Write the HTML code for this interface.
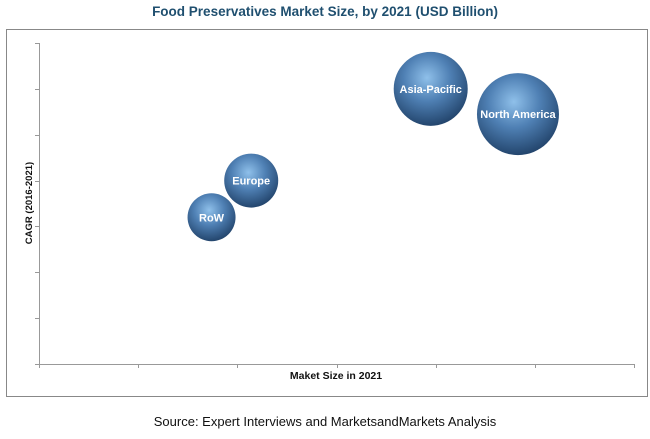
<!DOCTYPE html>
<html><head><meta charset="utf-8"><style>
body{margin:0;background:#fff;width:650px;height:434px;overflow:hidden;font-family:"Liberation Sans",sans-serif}
</style></head><body>
<svg width="650" height="434" viewBox="0 0 650 434">
<defs>
<radialGradient id="g" cx="0.45" cy="0.35" r="0.7">
<stop offset="0" stop-color="#8fc0ea"/>
<stop offset="0.45" stop-color="#4f80b4"/>
<stop offset="1" stop-color="#1d3d63"/>
</radialGradient>
</defs>
<text x="325" y="16" text-anchor="middle" font-size="13.5" font-weight="bold" fill="#1f4f6f">Food Preservatives Market Size, by  2021 (USD Billion)</text>
<rect x="6.5" y="29.5" width="641" height="367" fill="none" stroke="#888"/>
<g id="axes"></g>
<g id="bubbles"></g>
<text x="336" y="379" text-anchor="middle" font-size="10.5" font-weight="bold" fill="#111">Maket Size in 2021</text>
<text transform="translate(32,203) rotate(-90)" text-anchor="middle" font-size="9.5" font-weight="bold" fill="#111">CAGR (2016-2021)</text>
<text x="325" y="426" text-anchor="middle" font-size="13" fill="#111">Source: Expert Interviews and MarketsandMarkets Analysis</text>
</svg>
<script>
const regions=["North America","Asia-Pacific","Europe","RoW"];
const marketSize=[4.83,3.95,2.14,1.74];
const cagr=[5.45,6.0,4.0,3.2];
const bubbleSize=[41,37,27,24];
const xTicks=[0,1,2,3,4,5,6];
const yTicks=[0,1,2,3,4,5,6,7];
const NS="http://www.w3.org/2000/svg";
const X0=39,X1=634,Y0=364,Y1=43;
const xs=v=>X0+(X1-X0)*v/6, ys=v=>Y0-(Y0-Y1)*v/7;
const ax=document.getElementById('axes');
function ln(x1,y1,x2,y2,name){const l=document.createElementNS(NS,'line');l.setAttribute('x1',x1);l.setAttribute('y1',y1);l.setAttribute('x2',x2);l.setAttribute('y2',y2);l.setAttribute('stroke','#999');l.setAttribute('stroke-width','1');


ax.appendChild(l);}
ln(X0+.5,Y1,X0+.5,Y0,'y-axis-line');
ln(X0,Y0+.5,X1,Y0+.5,'x-axis-line');
xTicks.forEach(t=>ln(Math.round(xs(t))+.5,Y0,Math.round(xs(t))+.5,Y0+4,'x-tick'));
yTicks.forEach(t=>ln(X0-4,Math.round(ys(t))+.5,X0,Math.round(ys(t))+.5,'y-tick'));
const bg=document.getElementById('bubbles');
regions.forEach((r,i)=>{
const g=document.createElementNS(NS,'g');


const c=document.createElementNS(NS,'circle');
c.setAttribute('cx',xs(marketSize[i]));c.setAttribute('cy',ys(cagr[i]));c.setAttribute('r',bubbleSize[i]);c.setAttribute('fill','url(#g)');
g.appendChild(c);
const t=document.createElementNS(NS,'text');
t.setAttribute('x',xs(marketSize[i]));t.setAttribute('y',ys(cagr[i])+4);t.setAttribute('text-anchor','middle');
t.setAttribute('font-size','11');t.setAttribute('font-weight','bold');t.setAttribute('fill','#fff');


t.textContent=r;g.appendChild(t);
bg.appendChild(g);
});
</script>
</body></html>
